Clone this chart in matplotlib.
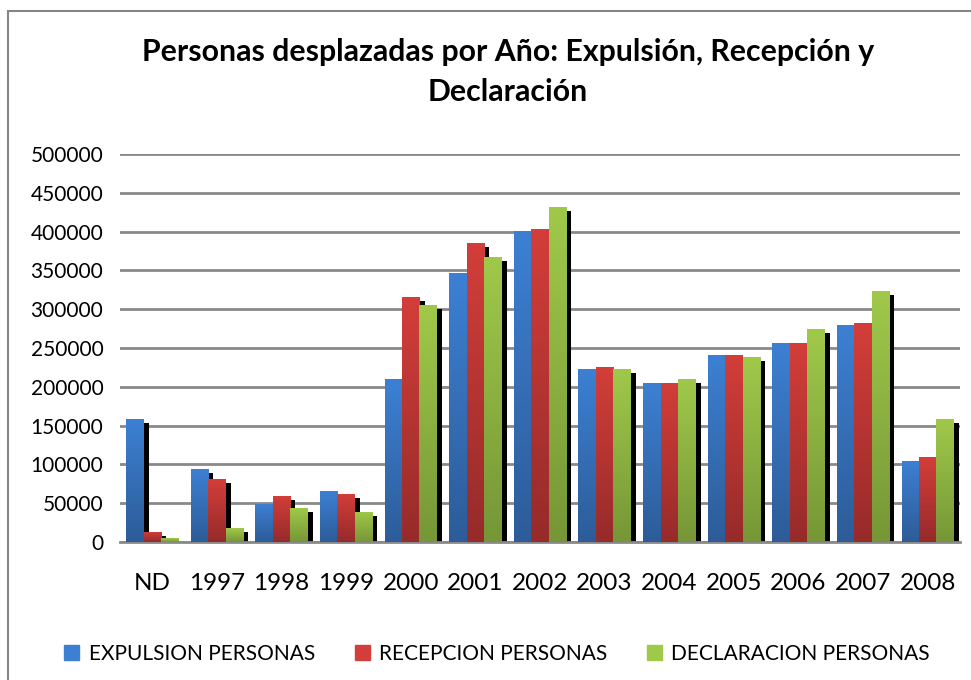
import matplotlib
matplotlib.use("Agg")
import matplotlib.pyplot as plt
import numpy as np
from matplotlib.colors import LinearSegmentedColormap
from matplotlib.patches import Patch, Rectangle

years = ["ND", "1997", "1998", "1999", "2000", "2001", "2002",
         "2003", "2004", "2005", "2006", "2007", "2008"]
expulsion = [158000, 94000, 49000, 65700, 210000, 346700, 400800,
             223000, 205000, 241000, 256400, 279600, 104400]
recepcion = [13000, 81000, 59300, 62000, 315700, 385300, 403400,
             225500, 205000, 241000, 256400, 282200, 109500]
declaracion = [5000, 18000, 43800, 38700, 305400, 367300, 431700,
               223000, 210000, 238400, 274500, 323400, 158500]
labels = ["EXPULSION PERSONAS", "RECEPCION PERSONAS", "DECLARACION PERSONAS"]

# (top colour, bottom colour) for the gradient fill
colors = [("#3d80d3", "#2d5c98"), ("#d33e3a", "#962b2a"), ("#a0c94a", "#769637")]

plt.rcParams['font.family'] = ['Lato', 'DejaVu Sans']

fig = plt.figure(figsize=(9.71, 6.80), dpi=100)
ax = fig.add_axes([120 / 971, 138 / 680, 840 / 971, 388 / 680])

x = np.arange(len(years))
w = 0.27
grad = np.linspace(0, 1, 256).reshape(-1, 1)

for i, (vals, (top, bot)) in enumerate(zip([expulsion, recepcion, declaracion], colors)):
    pos = x + (i - 1) * w
    vals = np.array(vals)
    # drop shadow
    ax.bar(pos + 0.08, np.maximum(vals - 5000, 0), w, color="black", zorder=2)
    bars = ax.bar(pos, vals, w, color=top, zorder=3 + i * 0.01)
    cmap = LinearSegmentedColormap.from_list("g%d" % i, [bot, top])
    for b in bars:
        bx, by = b.get_x(), b.get_y()
        im = ax.imshow(grad, cmap=cmap, origin="lower", aspect="auto",
                       extent=[bx, bx + b.get_width(), by, by + b.get_height()],
                       zorder=b.get_zorder() + 0.001)
        im.set_clip_path(b)

ax.set_xlim(-0.5, len(years) - 0.5)
ax.set_ylim(0, 500000)
ax.set_yticks(np.arange(0, 500001, 50000))
ax.set_xticks(x)
ax.set_xticklabels(years)
ax.yaxis.grid(True, color="#8a8a8a", lw=2)
ax.set_axisbelow(True)
for s in ["left", "right", "top"]:
    ax.spines[s].set_visible(False)
ax.spines["bottom"].set_color("#8a8a8a")
ax.spines["bottom"].set_linewidth(2)
ax.tick_params(axis="both", length=0)
ax.tick_params(axis="y", pad=12, labelsize=15)
ax.tick_params(axis="x", pad=22, labelsize=17.5)

fig.text(508 / 971, 1 - 52 / 680, "Personas desplazadas por Año: Expulsión, Recepción y",
         ha="center", va="center", fontsize=21.8, fontweight="bold")
fig.text(508 / 971, 1 - 92 / 680, "Declaración",
         ha="center", va="center", fontsize=21.8, fontweight="bold")

handles = [Patch(color=c[0]) for c in colors]
fig.legend(handles, labels, loc="center", bbox_to_anchor=(497 / 971, 1 - 654 / 680),
           ncol=3, frameon=False, fontsize=15, handlelength=0.72, handleheight=0.72,
           columnspacing=1.9, handletextpad=0.45)

# chart border
fig.patches.append(Rectangle((8 / 971, -0.1), 1.2, (680 - 11) / 680 + 0.1,
                             transform=fig.transFigure, fill=False,
                             edgecolor="#858585", lw=1.5))

fig.savefig("out.png", dpi=100)
